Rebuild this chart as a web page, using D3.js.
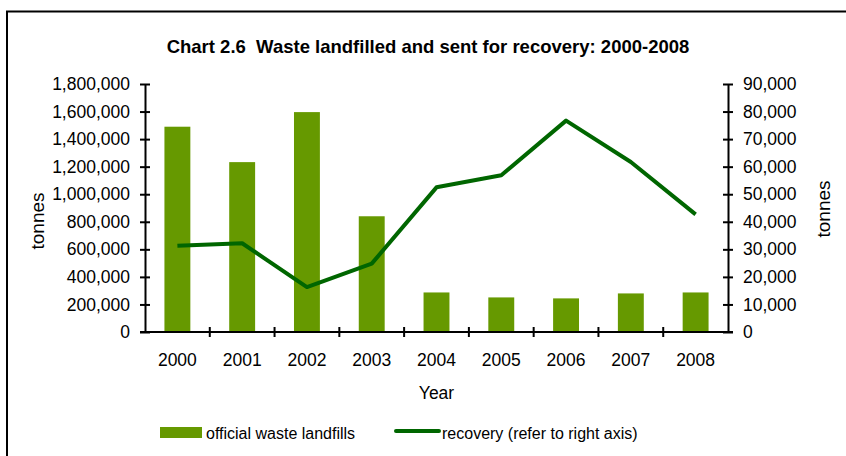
<!DOCTYPE html>
<html>
<head>
<meta charset="utf-8">
<script src="https://cdn.jsdelivr.net/npm/d3@7"></script>
<style>
  body { margin: 0; background: #fff; }
  text { font-family: "Liberation Sans", Arial, sans-serif; fill: #000; }
</style>
</head>
<body>
<div id="chart"></div>
<script>
const years = ['2000', '2001', '2002', '2003', '2004', '2005', '2006', '2007', '2008'];
const landfilled = [1490000, 1233000, 1596000, 840000, 287000, 251000, 244000, 280000, 287000];
const recovery = [31300, 32200, 16300, 24800, 52500, 56900, 76700, 61700, 42700];
const leftTicks = [0, 200000, 400000, 600000, 800000, 1000000, 1200000, 1400000, 1600000, 1800000];
const rightTicks = [0, 10000, 20000, 30000, 40000, 50000, 60000, 70000, 80000, 90000];

const W = 846, H = 456;
const margin = { top: 84, left: 145, right: 118, bottom: 124 };
const width = W - margin.left - margin.right;
const height = H - margin.top - margin.bottom;

const svg = d3.select('#chart').append('svg')
  .attr('width', W)
  .attr('height', H);

// frame (top and left edges only show in the crop)
svg.append('path')
  .attr('d', `M7,${H} V11.5 H${W}`)
  .attr('fill', 'none')
  .attr('stroke', '#000')
  .attr('stroke-width', 2);

svg.append('text')
  .attr('x', 428)
  .attr('y', 53)
  .attr('text-anchor', 'middle')
  .attr('xml:space', 'preserve')
  .style('white-space', 'pre')
  .style('font-size', '18.5px')
  .style('font-weight', 'bold')
  .text('Chart 2.6  Waste landfilled and sent for recovery: 2000-2008');

const g = svg.append('g')
  .attr('transform', `translate(${margin.left},${margin.top})`);

const x = d3.scaleBand().domain(years).range([0, width]);
const yLeft = d3.scaleLinear().domain([0, 1800000]).range([height, 0]);
const yRight = d3.scaleLinear().domain([0, 90000]).range([height, 0]);
const fmt = d3.format(',');

// bars
g.selectAll('.bar')
  .data(years)
  .enter().append('rect')
  .attr('class', 'bar')
  .attr('x', (d) => x(d) + x.bandwidth() * 0.3)
  .attr('width', x.bandwidth() * 0.4)
  .attr('y', (d, i) => yLeft(landfilled[i]))
  .attr('height', (d, i) => height - yLeft(landfilled[i]))
  .attr('fill', '#669900');

// axes
function styleAxis(sel) {
  sel.select('.domain').attr('stroke', '#000').attr('stroke-width', 2);
  sel.selectAll('.tick line').attr('stroke', '#000').attr('stroke-width', 2);
  sel.selectAll('.tick text').style('font-size', '17.5px').attr('fill', '#000');
}

const axL = g.append('g')
  .call(d3.axisLeft(yLeft).tickValues(leftTicks).tickFormat(fmt).tickSizeInner(5).tickSizeOuter(0).tickPadding(10));
axL.selectAll('.tick line').attr('x2', 5).attr('x1', -5);
styleAxis(axL);

const axR = g.append('g')
  .attr('transform', `translate(${width},0)`)
  .call(d3.axisRight(yRight).tickValues(rightTicks).tickFormat(fmt).tickSizeInner(5).tickSizeOuter(0).tickPadding(10));
axR.selectAll('.tick line').attr('x1', -5).attr('x2', 5);
styleAxis(axR);

// x axis with ticks between categories
const xb = g.append('g').attr('transform', `translate(0,${height})`);
xb.append('line')
  .attr('x1', -5).attr('x2', width + 5)
  .attr('stroke', '#000').attr('stroke-width', 2);
xb.selectAll('.xt')
  .data(years.slice(1))
  .enter().append('line')
  .attr('x1', (d) => x(d)).attr('x2', (d) => x(d))
  .attr('y1', -5).attr('y2', 5)
  .attr('stroke', '#000').attr('stroke-width', 2);
xb.selectAll('.xl')
  .data(years)
  .enter().append('text')
  .attr('x', (d) => x(d) + x.bandwidth() / 2)
  .attr('y', 34)
  .attr('text-anchor', 'middle')
  .style('font-size', '17.5px')
  .text((d) => d);

g.append('text')
  .attr('x', width / 2)
  .attr('y', height + 67)
  .attr('text-anchor', 'middle')
  .style('font-size', '17.5px')
  .text('Year');

// axis titles
g.append('text')
  .attr('transform', `translate(${37 - margin.left},${221 - margin.top}) rotate(-90)`)
  .attr('text-anchor', 'middle')
  .attr('dy', '0.35em')
  .style('font-size', '19px')
  .text('tonnes');

g.append('text')
  .attr('transform', `translate(${823 - margin.left},${209 - margin.top}) rotate(-90)`)
  .attr('text-anchor', 'middle')
  .attr('dy', '0.35em')
  .style('font-size', '19px')
  .text('tonnes');

// recovery line
g.append('path')
  .datum(recovery)
  .attr('fill', 'none')
  .attr('stroke', '#006600')
  .attr('stroke-width', 4)
  .attr('stroke-linejoin', 'round')
  .attr('d', d3.line()
    .x((d, i) => x(years[i]) + x.bandwidth() / 2)
    .y((d) => yRight(d)));

// legend
const leg = svg.append('g');
leg.append('rect')
  .attr('x', 160).attr('y', 427)
  .attr('width', 42).attr('height', 11)
  .attr('fill', '#669900');
leg.append('text')
  .attr('x', 206).attr('y', 439)
  .style('font-size', '16px')
  .text('official waste landfills');
leg.append('line')
  .attr('x1', 396).attr('x2', 439)
  .attr('y1', 431).attr('y2', 431)
  .attr('stroke', '#006600').attr('stroke-width', 4)
  .attr('stroke-linecap', 'round');
leg.append('text')
  .attr('x', 442).attr('y', 439)
  .style('font-size', '16px')
  .text('recovery (refer to right axis)');
</script>
</body>
</html>
